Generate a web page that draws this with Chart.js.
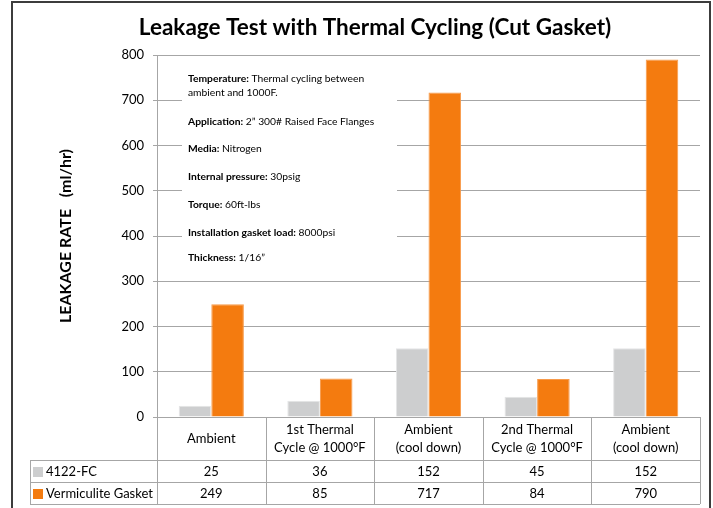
<!DOCTYPE html>
<html>
<head>
<meta charset="utf-8">
<script src="https://cdn.jsdelivr.net/npm/chart.js@4.4.0/dist/chart.umd.min.js"></script>
<style>
  html, body { margin: 0; padding: 0; background: #fff; }
  #wrap { width: 713px; height: 508px; }
</style>
</head>
<body>
<div id="wrap"><canvas id="myChart" width="713" height="508"></canvas></div>
<script>
'use strict';
let categories=[
  ['Ambient'],
  ['1st Thermal', 'Cycle @ 1000°F'],
  ['Ambient', '(cool down)'],
  ['2nd Thermal', 'Cycle @ 1000°F'],
  ['Ambient', '(cool down)']
];
let seriesNames=['4122-FC', 'Vermiculite Gasket'];
let fcValues=[25, 36, 152, 45, 152];
let vermValues=[249, 85, 717, 84, 790];
let yTicks=[0, 100, 200, 300, 400, 500, 600, 700, 800];

let titleText='Leakage Test with Thermal Cycling (Cut Gasket)';
let notes=[
  ['Temperature:', ' Thermal cycling between'],
  ['', 'ambient and 1000F.'],
  ['Application:', ' 2\u201d 300# Raised Face Flanges'],
  ['Media:', ' Nitrogen'],
  ['Internal pressure:', ' 30psig'],
  ['Torque:', ' 60ft-lbs'],
  ['Installation gasket load:', ' 8000psi'],
  ['Thickness:', ' 1/16\u201d']
];
let notesY=[79, 93, 122, 149, 177, 205, 233, 258];

let fontName='Lato, "Open Sans", sans-serif';
let grayColor='#cdcecf';
let orangeColor='#f47b0f';
let lineColor='#a6a6a6';

// title, frame, notes box and data table under the plot
let extras={
  id: 'extras',
  beforeDatasetsDraw(chart){
    let ctx=chart.ctx;
    ctx.save();
    ctx.fillStyle='#fff';
    ctx.fillRect(182, 66, 215, 202);
    ctx.textBaseline='middle';
    ctx.textAlign='left';
    for(let i=0; i<notes.length; i++){
      ctx.font='bold 10.3px '+fontName;
      ctx.fillStyle='#000';
      ctx.fillText(notes[i][0], 188, notesY[i]);
      let w=ctx.measureText(notes[i][0]).width;
      ctx.font='10.3px '+fontName;
      ctx.fillText(notes[i][1], 188+w, notesY[i]);
    }
    ctx.restore();
  },
  afterDraw(chart){
    let ctx=chart.ctx;
    let area=chart.chartArea;
    let xScale=chart.scales.x;
    let step=(area.right-area.left)/categories.length;
    ctx.save();

    // frame
    ctx.fillStyle='#3c3c3c';
    ctx.fillRect(11, 1, 2, 507);
    ctx.fillRect(11, 1, 700, 2);
    ctx.fillRect(709, 1, 2, 507);

    // title
    ctx.fillStyle='#000';
    ctx.font='bold 22.5px '+fontName;
    ctx.textAlign='center';
    ctx.textBaseline='middle';
    ctx.fillText(titleText, 375, 28);

    // table lines
    let rowTop=460, rowMid=482, rowBot=504, colLeft=30;
    ctx.strokeStyle=lineColor;
    ctx.lineWidth=1;
    ctx.beginPath();
    ctx.moveTo(colLeft, rowTop+0.5); ctx.lineTo(area.right, rowTop+0.5);
    ctx.moveTo(colLeft, rowMid+0.5); ctx.lineTo(area.right, rowMid+0.5);
    ctx.moveTo(colLeft, rowBot+0.5); ctx.lineTo(area.right, rowBot+0.5);
    ctx.moveTo(colLeft+0.5, rowTop); ctx.lineTo(colLeft+0.5, rowBot);
    for(let i=0; i<=categories.length; i++){
      let x=Math.round(area.left+i*step)+0.5;
      ctx.moveTo(x, area.bottom); ctx.lineTo(x, rowBot);
    }
    ctx.stroke();

    // category labels and values
    ctx.fillStyle='#000';
    ctx.font='13px '+fontName;
    ctx.textAlign='center';
    for(let i=0; i<categories.length; i++){
      let cx=xScale.getPixelForValue(i);
      let lines=categories[i];
      let mid=(area.bottom+rowTop)/2;
      for(let j=0; j<lines.length; j++){
        ctx.fillText(lines[j], cx, mid+(j-(lines.length-1)/2)*18);
      }
      ctx.fillText(String(fcValues[i]), cx, (rowTop+rowMid)/2+1);
      ctx.fillText(String(vermValues[i]), cx, (rowMid+rowBot)/2+1);
    }

    // row headers with swatches
    let swatch=[grayColor, orangeColor];
    let rowsY=[(rowTop+rowMid)/2+1, (rowMid+rowBot)/2+1];
    ctx.textAlign='left';
    for(let r=0; r<2; r++){
      ctx.fillStyle=swatch[r];
      ctx.fillRect(33, rowsY[r]-5, 10, 10);
      ctx.fillStyle='#000';
      ctx.fillText(seriesNames[r], 46, rowsY[r]);
    }
    ctx.restore();
  }
};

let ctx=document.getElementById('myChart').getContext('2d');
let myChart=new Chart(ctx, {
  type: 'bar',
  data: {
    labels: categories.map(c => c.join(' ')),
    datasets: [{
      label: seriesNames[0],
      data: fcValues,
      backgroundColor: grayColor,
      borderColor: '#e4e5e6',
      borderWidth: 1
    },
    {
      label: seriesNames[1],
      data: vermValues,
      backgroundColor: orangeColor,
      borderColor: '#f79a4a',
      borderWidth: 1
    }]
  },
  options: {
    responsive: false,
    animation: false,
    events: [],
    layout: { padding: { left: 12, right: 13, top: 55, bottom: 91 } },
    datasets: { bar: { categoryPercentage: 0.6, barPercentage: 1 } },
    plugins: { legend: { display: false }, tooltip: { enabled: false } },
    scales: {
      x: { display: false },
      y: {
        min: 0,
        max: 800,
        afterFit(scale){ scale.width=145; },
        afterBuildTicks(scale){ scale.ticks=yTicks.map(v => ({value: v})); },
        ticks: { color: '#000', padding: 9, font: { family: fontName, size: 13 } },
        grid: { color: lineColor, tickLength: 4 },
        border: { color: lineColor },
        title: {
          display: true,
          text: 'LEAKAGE RATE   (ml/hr)',
          color: '#000',
          font: { family: fontName, size: 16, weight: 'bold' },
          padding: { top: 44, bottom: 0 }
        }
      }
    }
  },
  plugins: [extras]
});
</script>
</body>
</html>
